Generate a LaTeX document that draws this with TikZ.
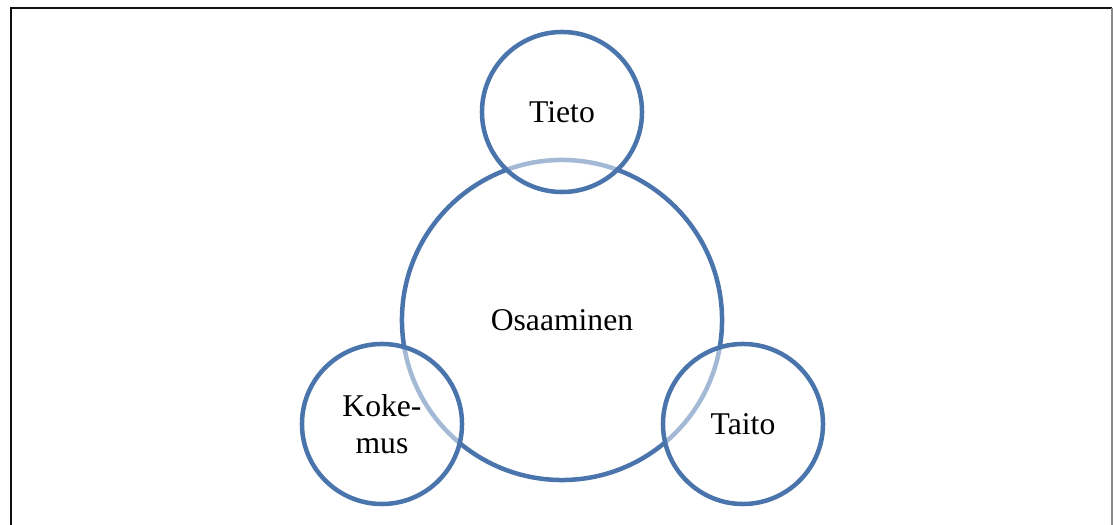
\documentclass[tikz,border=0pt]{standalone}
\usepackage{fontspec}
\setmainfont{Liberation Serif}
\definecolor{OSBlue}{HTML}{4A74AC}
\definecolor{OSFrame}{HTML}{111111}
\definecolor{OSGrey}{HTML}{8A8A8A}

\begin{document}
\begin{tikzpicture}[x=0.025cm,y=0.025cm,
  ring/.style={circle,draw=OSBlue,line width=3.2pt,inner sep=0pt,font=\fontsize{22.5}{26}\selectfont},
  sidering/.style={ring,minimum size=4cm,fill=white,fill opacity=0.5,text opacity=1}]
\path[use as bounding box] (0,0) rectangle (1114,525);
% frame
\draw[OSFrame,line width=1.1pt] (11,0) -- (11,517) -- (1112,517);
\draw[OSGrey,line width=0.8pt] (1112,517) -- (1112,0);
% core circle
\node[ring,minimum size=8cm] (osaaminen) at (562,205) {Osaaminen};
% three overlapping circles
\node[sidering] (tieto) at (562,413) {Tieto};
\node[sidering,align=center] (kokemus) at (382,101) {Koke-\\mus};
\node[sidering] (taito) at (743,101) {Taito};
\end{tikzpicture}
\end{document}
